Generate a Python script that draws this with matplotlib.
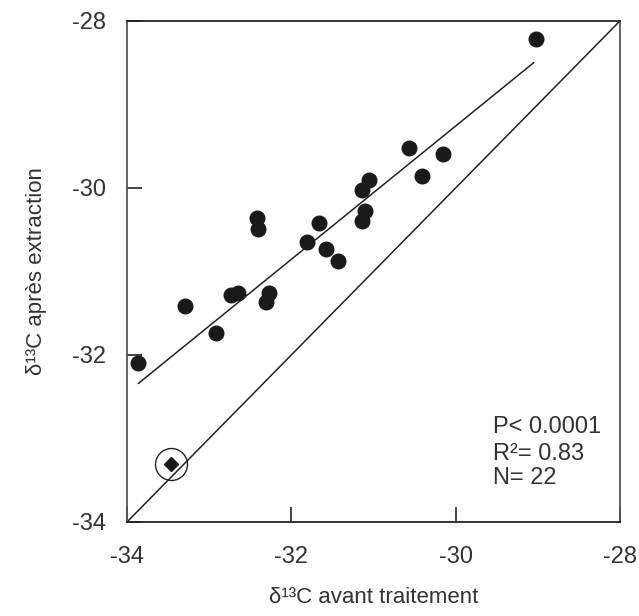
import matplotlib
matplotlib.use("Agg")
import matplotlib.pyplot as plt
import numpy as np

plt.rcParams['font.family'] = ['Liberation Sans', 'DejaVu Sans']

# Data
x_before = [-29.02, -30.57, -30.15, -30.41, -31.05, -31.14, -31.10, -31.14,
            -32.42, -32.40, -31.66, -31.81, -31.58, -31.43, -33.29, -32.73,
            -32.65, -32.27, -32.31, -32.92, -33.87]
y_after = [-28.22, -29.52, -29.59, -29.86, -29.91, -30.02, -30.28, -30.40,
           -30.36, -30.49, -30.42, -30.65, -30.73, -30.88, -31.41, -31.28,
           -31.26, -31.26, -31.36, -31.74, -32.10]
outlier_x = [-33.47]
outlier_y = [-33.30]
fit_x = [-33.86, -29.05]
fit_y = [-32.34, -28.50]
identity = [-34, -28]
ticks = [-34, -32, -30, -28]
stats_lines = ["P< 0.0001", "R²= 0.83", "N= 22"]

fig = plt.figure(figsize=(6.39, 6.16), dpi=100)
ax = fig.add_axes([0.1987, 0.1526, 0.7715, 0.8134])

ax.plot(identity, identity, color='#222222', lw=1.1)
ax.plot(fit_x, fit_y, color='#222222', lw=1.1)
ax.plot(x_before, y_after, 'o', color='#1a1a1a', ms=10.5, mec='#1a1a1a')
ax.plot(outlier_x, outlier_y, 'D', color='#1a1a1a', ms=7.5)
ax.plot(outlier_x, outlier_y, 'o', mfc='none', mec='#222222', ms=23, mew=1.0)

ax.set_xlim(-34, -28)
ax.set_ylim(-34, -28)
ax.set_xticks(ticks)
ax.set_yticks(ticks)
ax.set_xticklabels([str(t) for t in ticks])
ax.set_yticklabels([str(t) for t in ticks])
ax.tick_params(direction='in', length=11, width=1.2, colors='#222222',
               labelsize=17, labelcolor='#333333')
ax.tick_params(axis='y', pad=15)
ax.tick_params(axis='x', pad=17)
for name, s in ax.spines.items():
    s.set_color('#222222')
    s.set_linewidth(1.3)
ax.spines['left'].set_color('#555555')
ax.spines['right'].set_color('#555555')

ax.set_xlabel("δ¹³C avant traitement", fontsize=16, color='#333333', labelpad=14)
ax.set_ylabel("δ¹³C après extraction", fontsize=16, color='#333333', labelpad=18)

ys = [-32.86, -33.19, -33.47]
for t, yy in zip(stats_lines, ys):
    ax.text(-29.54, yy, t, fontsize=17, color='#333333', va='center', ha='left')

fig.savefig("out.png", dpi=100)
